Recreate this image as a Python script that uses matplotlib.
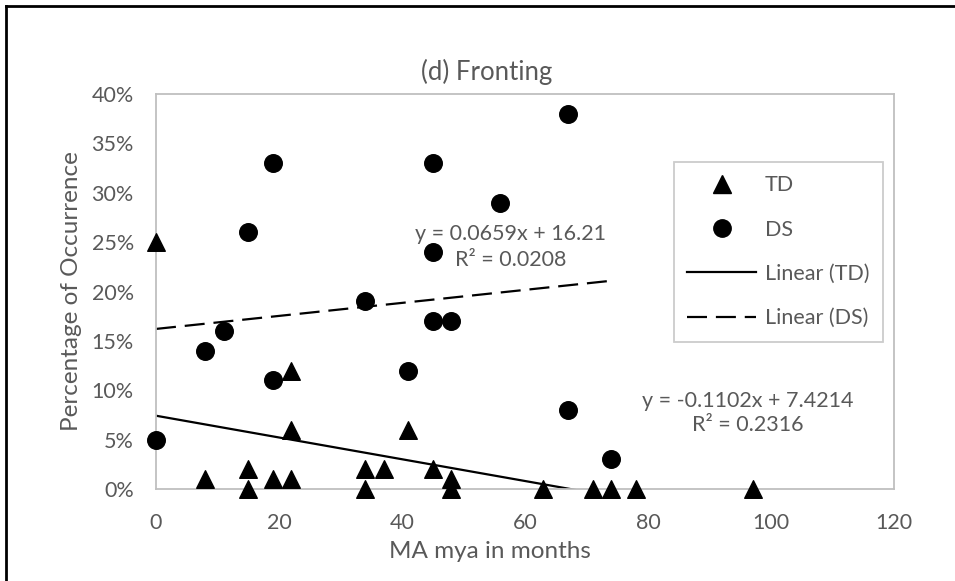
import matplotlib.pyplot as plt
from matplotlib.lines import Line2D

plt.rcParams['font.family'] = ['Lato', 'DejaVu Sans']

# MA mya (months) vs percentage of fronting
td_x = [0, 8, 15, 15, 19, 22, 22, 22, 34, 34, 37, 41, 45, 48, 48, 63, 71, 74, 78, 97]
td_y = [25, 1, 2, 0, 1, 12, 6, 1, 2, 0, 2, 6, 2, 1, 0, 0, 0, 0, 0, 0]
ds_x = [0, 8, 11, 15, 19, 19, 34, 41, 45, 45, 45, 48, 56, 67, 67, 74]
ds_y = [5, 14, 16, 26, 33, 11, 19, 12, 33, 24, 17, 17, 29, 38, 8, 3]

# linear trendlines (slope, intercept, r2)
td_fit = (-0.1102, 7.4214, 0.2316)
ds_fit = (0.0659, 16.21, 0.0208)

x_ticks = [0, 20, 40, 60, 80, 100, 120]
y_ticks = [0, 5, 10, 15, 20, 25, 30, 35, 40]

grey = '#595959'
frame = '#BFBFBF'

W, H = 955, 581
fig = plt.figure(figsize=(W / 100, H / 100), dpi=100)
ax = fig.add_axes([156 / W, 1 - 489 / H, (894 - 156) / W, (489 - 94) / H])

ax.scatter(td_x, td_y, marker='^', s=160, color='black', clip_on=False, zorder=3)
ax.scatter(ds_x, ds_y, marker='o', s=160, color='black', clip_on=False, zorder=3)

xs = [min(td_x), max(td_x)]
ax.plot(xs, [td_fit[0] * v + td_fit[1] for v in xs], color='black', lw=1.6)
xs = [min(ds_x), max(ds_x)]
ax.plot(xs, [ds_fit[0] * v + ds_fit[1] for v in xs], color='black', lw=1.6,
        dashes=(9, 4))

ax.set_xlim(0, 120)
ax.set_ylim(0, 40)
ax.set_xticks(x_ticks)
ax.set_yticks(y_ticks)
ax.set_yticklabels([f'{v}%' for v in y_ticks])
ax.tick_params(length=0, labelsize=15.5, labelcolor=grey)
ax.tick_params(axis='x', pad=17)
ax.tick_params(axis='y', pad=16)
for s in ax.spines.values():
    s.set_color(frame)
    s.set_linewidth(1.3)

ax.text(57.7, 24.5, f'y = {ds_fit[0]}x + {ds_fit[1]}\nR² = {ds_fit[2]}',
        ha='center', va='center', fontsize=15.5, color=grey, linespacing=1.35)
ax.text(96.3, 7.7, f'y = {td_fit[0]}x + {td_fit[1]}\nR² = {td_fit[2]}',
        ha='center', va='center', fontsize=15.5, color=grey, linespacing=1.3)

handles = [
    Line2D([], [], ls='none', marker='^', ms=12.5, color='black'),
    Line2D([], [], ls='none', marker='o', ms=12.5, color='black'),
    Line2D([], [], color='black', lw=1.6),
    Line2D([], [], color='black', lw=1.6, dashes=(9, 4)),
]
leg = ax.legend(handles, ['TD', 'DS', 'Linear (TD)', 'Linear (DS)'],
                loc='upper left', bbox_to_anchor=(0.702, 0.828),
                fontsize=15.5, labelcolor=grey, frameon=True, fancybox=False,
                edgecolor=frame, handlelength=3.2, labelspacing=1.13,
                borderpad=0.62, handletextpad=0.4, borderaxespad=0)
leg.get_frame().set_linewidth(1.3)

fig.text(487 / W, 1 - 72 / H, '(d) Fronting', ha='center', va='center',
         fontsize=18.5, color=grey)
fig.text(490 / W, 1 - 551 / H, 'MA mya in months', ha='center', va='center',
         fontsize=17.5, color=grey)
fig.text(71 / W, 1 - 291 / H, 'Percentage of Occurrence', ha='center',
         va='center', rotation=90, fontsize=17.5, color=grey)

# chart border on left and top
fig.add_artist(Line2D([6 / W, 6 / W], [0, 1 - 6 / H], color='black', lw=2))
fig.add_artist(Line2D([6 / W, 1], [1 - 6 / H, 1 - 6 / H], color='black', lw=2))

fig.savefig('out.png', dpi=100)
